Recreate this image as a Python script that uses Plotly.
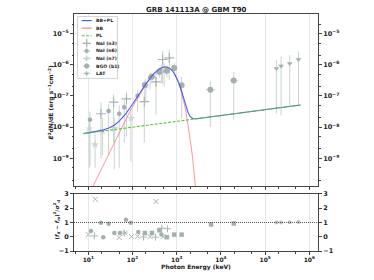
import plotly.graph_objects as go

# ---------------- model curves ----------------
E_bb = [10, 12, 15, 20, 30, 40, 50, 70, 100, 150, 200, 300, 400, 500, 550, 600, 700, 800,
        900, 1000, 1100, 1200, 1350, 1500, 1650, 1800, 2000, 2150, 2300, 2450, 2600, 2800]
F_bb = [6.3e-11, 1.07e-10, 2.07e-10, 4.83e-10, 1.57e-9, 3.59e-9, 6.75e-9, 1.71e-8, 4.45e-8,
        1.22e-7, 2.34e-7, 4.99e-7, 7.23e-7, 8.38e-7, 8.51e-7, 8.38e-7, 7.55e-7, 6.28e-7,
        4.92e-7, 3.66e-7, 2.63e-7, 1.82e-7, 9.99e-8, 5.21e-8, 2.62e-8, 1.27e-8, 4.63e-9,
        2.12e-9, 9.51e-10, 4.19e-10, 1.82e-10, 5.87e-11]
E_tot = [7.7, 10, 12, 15, 20, 30, 40, 50, 70, 100, 150, 200, 300, 400, 500, 550, 600, 700,
         800, 900, 1000, 1100, 1200, 1350, 1500, 1650, 1800, 2000, 2150, 2300, 2450, 2600,
         2800, 5000, 1e4, 1e5, 6.3e5]
F_tot = [6.21e-9, 6.54e-9, 6.81e-9, 7.20e-9, 7.86e-9, 9.52e-9, 1.20e-8, 1.55e-8, 2.65e-8,
         5.44e-8, 1.33e-7, 2.45e-7, 5.11e-7, 7.36e-7, 8.51e-7, 8.65e-7, 8.51e-7, 7.69e-7,
         6.43e-7, 5.07e-7, 3.82e-7, 2.78e-7, 1.98e-7, 1.16e-7, 6.86e-8, 4.30e-8, 2.98e-8,
         2.21e-8, 1.98e-8, 1.89e-8, 1.85e-8, 1.85e-8, 1.86e-8, 2.07e-8, 2.36e-8, 3.62e-8,
         5.12e-8]
E_pl = [7.7, 6.3e5]
F_pl = [6.17e-9, 5.12e-8]

# ---------------- data points ----------------
n3_E = [19.3, 37.3, 73, 185, 340, 480, 680]
n3_F = [2.69e-8, 6.31e-8, 8.13e-8, 6.61e-8, 2.82e-7, 1.48e-6, 1.66e-6]
n3_Fhi = [6.31e-8, 1.12e-7, 1.41e-7, 1.26e-7, 6.31e-7, 2.82e-6, 3.16e-6]
n3_Flo = [1.0e-9, 3.16e-9, 5.01e-9, 3.16e-9, 2.51e-8, 2.51e-7, 3.16e-7]
n3_Elo = [17.5, 34, 66, 168, 310, 440, 620]
n3_Ehi = [21.3, 41, 80, 205, 375, 525, 745]

n6_E = [10.9, 28.8, 50, 65, 130, 250, 450]
n6_F = [1.74e-8, 3.31e-8, 2.69e-8, 4.37e-8, 1.02e-7, 3.89e-7, 6.31e-7]
n6_Fhi = [3.16e-8, 5.62e-8, 5.01e-8, 7.08e-8, 1.58e-7, 5.62e-7, 1.0e-6]
n6_Flo = [5.62e-10, 1.26e-9, 5.01e-10, 3.16e-9, 3.16e-8, 1.58e-7, 2.51e-7]
n6_Elo = [10.0, 26.5, 46, 60, 120, 230, 415]
n6_Ehi = [11.8, 31.2, 54, 70, 141, 272, 488]

n7_E = [10.5, 14.2, 21, 38.8, 92, 200, 520]
n7_F = [8.91e-9, 2.75e-9, 7.59e-9, 9.12e-9, 1.91e-8, 2.14e-7, 6.31e-7]
n7_Fhi = [2.0e-8, 6.31e-9, 2.0e-8, 2.0e-8, 3.98e-8, 3.55e-7, 1.12e-6]
n7_Flo = [5.01e-10, 5.01e-10, 1.26e-9, 4.47e-10, 7.94e-10, 6.31e-8, 2.0e-7]
n7_Elo = [9.7, 12.5, 19.3, 35.7, 85, 184, 478]
n7_Ehi = [11.3, 16.0, 22.8, 42, 100, 218, 565]

b1_E = [190, 275, 405, 600, 880, 1290, 5770, 19500]
b1_F = [2.24e-7, 4.17e-7, 5.89e-7, 6.46e-7, 7.94e-7, 2.19e-7, 1.58e-7, 3.16e-7]
b1_Fhi = [3.16e-7, 5.62e-7, 7.94e-7, 8.91e-7, 1.12e-6, 3.98e-7, 3.09e-7, 5.89e-7]
b1_Flo = [1.26e-7, 2.51e-7, 3.98e-7, 3.98e-7, 4.47e-7, 2.0e-8, 1.0e-8, 1.66e-8]
b1_Elo = [165, 240, 355, 525, 770, 1130, 4600, 16300]
b1_Ehi = [218, 315, 462, 685, 1005, 1470, 7600, 23900]

lat_E = [1.8e5, 2.3e5, 3.6e5, 5.7e5]
lat_F = [7.59e-7, 9.12e-7, 1.10e-6, 1.48e-6]
lat_Fhi = [1.41e-6, 1.86e-6, 2.04e-6, 2.69e-6]
lat_Flo = [2.69e-8, 2.40e-8, 5.01e-8, 5.25e-8]
lat_Elo = [1.65e5, 2.1e5, 3.3e5, 5.2e5]
lat_Ehi = [1.95e5, 2.5e5, 3.9e5, 6.2e5]

# residuals
r_n3_E = [13.7, 65, 178, 330, 460, 620]
r_n3 = [0.06, 0.26, -0.02, -0.03, 0.6, 0.56]
r_n6_E = [11.5, 19.3, 21.8, 28.8, 38.8, 52, 71, 91, 135, 450]
r_n6 = [0.40, 0.98, -0.03, 0.91, 0.26, 0.26, 1.19, 0.98, 0.33, 0.15]
r_n7_E = [10, 14.4, 50, 67, 95, 130, 250, 340, 490]
r_n7 = [0.15, 2.63, -0.06, 0.26, 0.01, 0.03, 0.0, 2.47, 0.0]
r_b1_E = [190, 275, 405, 600, 880, 1290, 6000, 19500]
r_b1 = [0.26, 0.26, 0.45, -0.03, 0.15, 0.15, 0.86, 0.93]
r_lat_E = [1.8e5, 2.3e5, 3.6e5, 5.7e5]
r_lat = [1.0, 1.0, 1.02, 1.04]

FONT = "DejaVu Sans"
PT = "#a3b1ad"
ERR = "#c9d4d1"
C_TOT = "#4b5cf5"
C_BB = "#ff8a8a"
C_PL = "#5cc52e"
PL_DASH = "3px,1.5px"

fig = go.Figure()


def data_trace(E, F, Fhi, Flo, Elo, Ehi, symbol, color, size, lw=0):
    return go.Scatter(
        x=E, y=F, mode="markers", xaxis="x", yaxis="y", showlegend=False,
        marker=dict(symbol=symbol, size=size, color=color,
                    line=dict(width=lw, color=color)),
        error_y=dict(type="data", symmetric=False,
                     array=[h - f for h, f in zip(Fhi, F)],
                     arrayminus=[f - l for f, l in zip(F, Flo)],
                     color=ERR, thickness=1, width=0),
        error_x=dict(type="data", symmetric=False,
                     array=[h - e for h, e in zip(Ehi, E)],
                     arrayminus=[e - l for e, l in zip(E, Elo)],
                     color=ERR, thickness=1, width=0),
    )


fig.add_trace(data_trace(n7_E, n7_F, n7_Fhi, n7_Flo, n7_Elo, n7_Ehi, "star", "#cdd6d3", 6))
fig.add_trace(data_trace(n6_E, n6_F, n6_Fhi, n6_Flo, n6_Elo, n6_Ehi, "hexagon", PT, 5))
fig.add_trace(data_trace(n3_E, n3_F, n3_Fhi, n3_Flo, n3_Elo, n3_Ehi, "cross-thin", "#aab6b3", 7, 1.2))
fig.add_trace(data_trace(b1_E, b1_F, b1_Fhi, b1_Flo, b1_Elo, b1_Ehi, "circle", PT, 6))
fig.add_trace(data_trace(lat_E, lat_F, lat_Fhi, lat_Flo, lat_Elo, lat_Ehi, "triangle-down", PT, 5))

# model lines
fig.add_trace(go.Scatter(x=E_bb, y=F_bb, mode="lines", xaxis="x", yaxis="y", showlegend=False,
                         line=dict(color=C_BB, width=0.9)))
fig.add_trace(go.Scatter(x=E_tot, y=F_tot, mode="lines", xaxis="x", yaxis="y", showlegend=False,
                         line=dict(color=C_TOT, width=1.1)))
fig.add_trace(go.Scatter(x=E_pl, y=F_pl, mode="lines", xaxis="x", yaxis="y", showlegend=False,
                         line=dict(color=C_PL, width=1.1, dash=PL_DASH)))
# invisible helper for right-hand axis
fig.add_trace(go.Scatter(x=E_pl, y=F_pl, mode="lines", xaxis="x", yaxis="y3", showlegend=False,
                         opacity=0, hoverinfo="skip", line=dict(width=1)))

# residuals
def res_trace(E, R, symbol, color, size, lw=0):
    return go.Scatter(x=E, y=R, mode="markers", xaxis="x2", yaxis="y2", showlegend=False,
                      marker=dict(symbol=symbol, size=size, color=color,
                                  line=dict(width=lw, color=color)))

fig.add_trace(res_trace(r_n7_E, r_n7, "x-thin", "#aab6b3", 5, 1))
fig.add_trace(res_trace(r_n6_E, r_n6, "circle", PT, 4.5))
fig.add_trace(res_trace(r_n3_E, r_n3, "cross-thin", "#aab6b3", 5, 1))
fig.add_trace(res_trace(r_b1_E, r_b1, "square", PT, 4.5))
fig.add_trace(res_trace(r_lat_E, r_lat, "circle", "#b8c3c0", 4))
fig.add_trace(go.Scatter(x=[10 ** 0.676, 10 ** 6.197], y=[1, 1], mode="lines", xaxis="x2", yaxis="y2",
                         showlegend=False, line=dict(color="#555555", width=1, dash="1px,1px")))
fig.add_trace(go.Scatter(x=[10, 100], y=[1, 1], mode="lines", xaxis="x2", yaxis="y4",
                         showlegend=False, opacity=0, hoverinfo="skip"))

# ---------------- manual legend (in its own hidden axes) ----------------
fig.add_trace(go.Scatter(x=[0.5, 40.5, 40.5, 0.5, 0.5], y=[0.5, 0.5, 63.5, 63.5, 0.5],
                         mode="lines", fill="toself", fillcolor="rgba(255,255,255,0.9)",
                         line=dict(color="#d4d4d4", width=1), xaxis="x3", yaxis="y5",
                         showlegend=False, hoverinfo="skip"))
leg_labels = ["BB+PL", "BB", "PL", "NaI (n3)", "NaI (n6)", "NaI (n7)", "BGO (b1)", "LAT"]
leg_y = [4.7, 12.4, 20.1, 27.8, 35.5, 43.2, 50.9, 58.6]
leg_lines = [(C_TOT, "solid"), (C_BB, "solid"), (C_PL, PL_DASH)]
for i in range(3):
    fig.add_trace(go.Scatter(x=[4.7, 14.7], y=[leg_y[i], leg_y[i]], mode="lines",
                             xaxis="x3", yaxis="y5", showlegend=False, hoverinfo="skip",
                             line=dict(color=leg_lines[i][0], width=1.2, dash=leg_lines[i][1])))
leg_marks = [("cross-thin", "#aab6b3", 6, 1.2), ("hexagon", PT, 4.5, 0), ("star", "#cdd6d3", 5, 0),
             ("circle", PT, 5, 0), ("triangle-down", PT, 4.5, 0)]
for j, (sym, col, sz, lw) in enumerate(leg_marks):
    fig.add_trace(go.Scatter(x=[9.7], y=[leg_y[3 + j]], mode="markers", xaxis="x3", yaxis="y5",
                             showlegend=False, hoverinfo="skip",
                             marker=dict(symbol=sym, size=sz, color=col, line=dict(width=lw, color=col)),
                             error_x=dict(type="constant", value=4, color=ERR, thickness=1, width=0),
                             error_y=dict(type="constant", value=3, color=ERR, thickness=1, width=0)))
annotations = []
for lab, yy in zip(leg_labels, leg_y):
    annotations.append(dict(x=17, y=yy, xref="x3", yref="y5", text="<b>%s</b>" % lab,
                            showarrow=False, xanchor="left", yanchor="middle",
                            font=dict(family=FONT, size=4.6, color="#222")))

annotations += [
    dict(x=0.5, y=1.0166, xref="paper", yref="paper", text="<b>GRB 141113A @ GBM T90</b>",
         showarrow=False, xanchor="center", yanchor="middle", font=dict(family=FONT, size=7, color="#222")),
    dict(x=-0.094, y=0.627, xref="paper", yref="paper", textangle=-90,
         text="<b><i>E</i><sup>2</sup>dN/dE (erg s<sup>−1</sup>cm<sup>−2</sup>)</b>",
         showarrow=False, xanchor="center", yanchor="middle", font=dict(family=FONT, size=6, color="#222")),
    dict(x=-0.070, y=0.133, xref="paper", yref="paper", textangle=-90,
         text="<b>(<i>f<sub>d</sub></i> − <i>f<sub>m</sub></i>)<sup>2</sup>/<i>σ</i><sup>2</sup><sub>d</sub></b>",
         showarrow=False, xanchor="center", yanchor="middle", font=dict(family=FONT, size=5.5, color="#222")),
    dict(x=0.5, y=-0.068, xref="paper", yref="paper", text="<b>Photon Energy (keV)</b>",
         showarrow=False, xanchor="center", yanchor="middle", font=dict(family=FONT, size=6, color="#222")),
]

x_tickvals = [10, 100, 1000, 1e4, 1e5, 1e6]
x_ticktext = ["10<sup>1</sup>", "10<sup>2</sup>", "10<sup>3</sup>", "10<sup>4</sup>", "10<sup>5</sup>", "10<sup>6</sup>"]
y_tickvals = [1e-9, 1e-8, 1e-7, 1e-6, 1e-5]
y_ticktext = ["10<sup>−9</sup>", "10<sup>−8</sup>", "10<sup>−7</sup>", "10<sup>−6</sup>", "10<sup>−5</sup>"]
r_tickvals = [-1, 0, 1, 2, 3]
r_ticktext = ["−1", "0", "1", "2", "3"]

AX = "#444444"
tickfont = dict(family=FONT, size=6.5, color="#222", weight="bold")
xtickfont = dict(family=FONT, size=6, color="#222", weight="bold")
xcommon = dict(type="log", range=[0.676, 6.197], tickvals=x_tickvals, ticks="outside", ticklen=2.5,
               tickcolor=AX, showline=True, linecolor=AX, linewidth=1, mirror=True,
               showgrid=True, gridcolor="#e3e8e6", gridwidth=1, zeroline=False,
               minor=dict(ticks="outside", ticklen=1.5, tickcolor=AX, showgrid=False),
               tickfont=xtickfont)
fig.update_layout(
    width=374, height=280,
    margin=dict(l=74, r=56, t=10, b=29),
    paper_bgcolor="white", plot_bgcolor="white",
    font=dict(family=FONT),
    showlegend=False,
    xaxis=dict(domain=[0, 1], anchor="y", showticklabels=False, **xcommon),
    xaxis2=dict(domain=[0, 1], anchor="y2", matches="x", showticklabels=True,
                ticktext=x_ticktext, **xcommon),
    yaxis=dict(domain=[0.274, 1], anchor="x", type="log", range=[-9.89, -4.37],
               tickvals=y_tickvals, ticktext=y_ticktext, ticks="outside", ticklen=3, tickcolor=AX,
               showline=True, linecolor=AX, linewidth=1, mirror=True, showgrid=False,
               zeroline=False, tickfont=tickfont,
               minor=dict(ticks="outside", ticklen=1.5, tickcolor=AX)),
    yaxis3=dict(overlaying="y", side="right", anchor="x", type="log", range=[-9.89, -4.37],
                tickvals=y_tickvals, ticktext=y_ticktext, ticks="outside", ticklen=3, tickcolor=AX,
                showline=False, showgrid=False, zeroline=False, tickfont=tickfont,
                minor=dict(ticks="outside", ticklen=1.5, tickcolor=AX)),
    yaxis2=dict(domain=[0, 0.2407], anchor="x2", range=[-1, 3], tickvals=r_tickvals,
                ticktext=r_ticktext, ticks="outside", ticklen=3, tickcolor=AX,
                showline=True, linecolor=AX, linewidth=1, mirror=True, showgrid=False,
                zeroline=False, tickfont=tickfont),
    yaxis4=dict(overlaying="y2", side="right", anchor="x2", range=[-1, 3], tickvals=r_tickvals,
                ticktext=r_ticktext, ticks="outside", ticklen=3, tickcolor=AX,
                showline=False, showgrid=False, zeroline=False, tickfont=tickfont),
    xaxis3=dict(domain=[0.0123, 0.1803], anchor="y5", range=[0, 41], visible=False, fixedrange=True),
    yaxis5=dict(domain=[0.7261, 0.9917], anchor="x3", range=[64, 0], visible=False, fixedrange=True),
    annotations=annotations,
)

fig.write_html("out.html", config={"displayModeBar": False},
               post_script="document.body.style.margin='0px';document.body.style.padding='0px';")
